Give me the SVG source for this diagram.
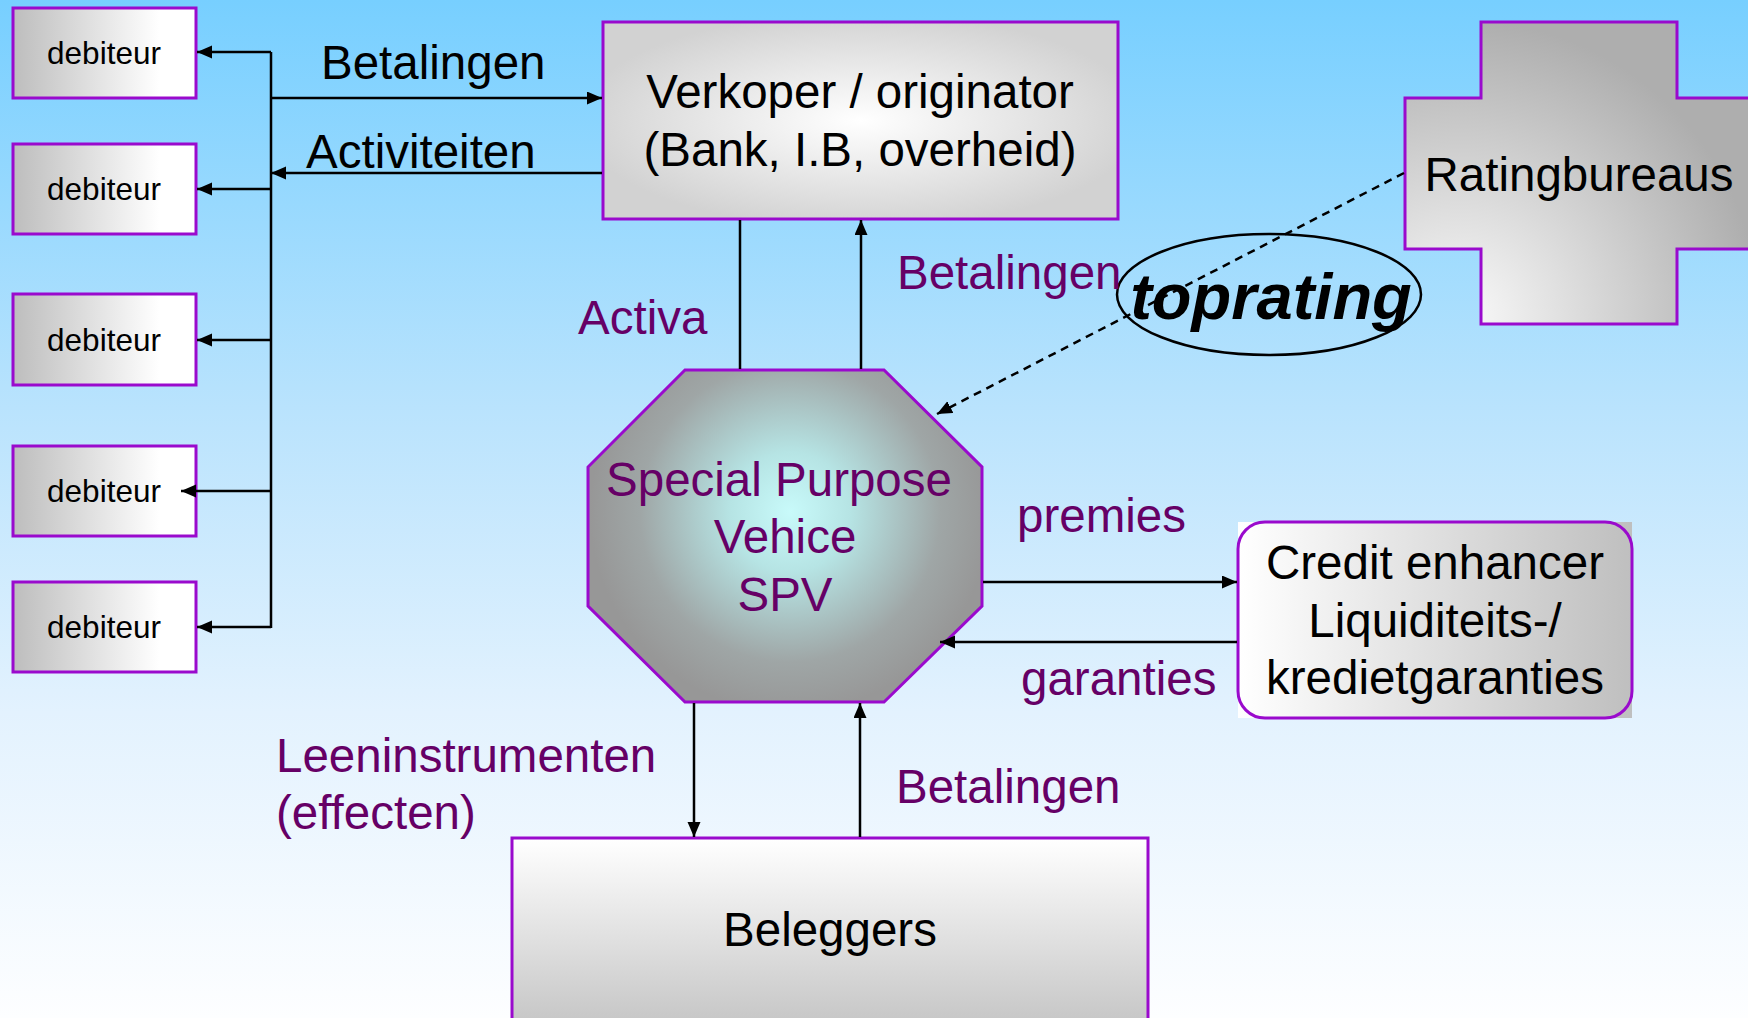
<svg xmlns="http://www.w3.org/2000/svg" width="1748" height="1018" viewBox="0 0 1748 1018">
<defs>
  <linearGradient id="bg" x1="0" y1="0" x2="0" y2="1">
    <stop offset="0" stop-color="#77cfff"/>
    <stop offset="0.4" stop-color="#b9e3fd"/>
    <stop offset="0.7" stop-color="#e3f2fe"/>
    <stop offset="1" stop-color="#fdfeff"/>
  </linearGradient>
  <linearGradient id="gDeb" x1="0" y1="0" x2="1" y2="0">
    <stop offset="0" stop-color="#bdbdbd"/>
    <stop offset="0.8" stop-color="#ffffff"/>
    <stop offset="1" stop-color="#ffffff"/>
  </linearGradient>
  <radialGradient id="gVerk" cx="0.5" cy="0.5" r="0.55">
    <stop offset="0" stop-color="#ffffff"/>
    <stop offset="1" stop-color="#d2d2d2"/>
  </radialGradient>
  <radialGradient id="gCross" gradientUnits="userSpaceOnUse" cx="1460" cy="320" r="300">
    <stop offset="0" stop-color="#fafafa"/>
    <stop offset="1" stop-color="#aeaeae"/>
  </radialGradient>
  <radialGradient id="gSpv" gradientUnits="userSpaceOnUse" cx="790" cy="512" r="200">
    <stop offset="0" stop-color="#c8fafa"/>
    <stop offset="0.3" stop-color="#b6e4e4"/>
    <stop offset="0.75" stop-color="#9fa6a6"/>
    <stop offset="1" stop-color="#979797"/>
  </radialGradient>
  <linearGradient id="gCred" x1="0" y1="0" x2="1" y2="0">
    <stop offset="0" stop-color="#ffffff"/>
    <stop offset="1" stop-color="#bfbfbf"/>
  </linearGradient>
  <linearGradient id="gBel" gradientUnits="userSpaceOnUse" x1="0" y1="838" x2="0" y2="1018">
    <stop offset="0" stop-color="#ffffff"/>
    <stop offset="1" stop-color="#c8c8c8"/>
  </linearGradient>
  <marker id="ah" markerUnits="userSpaceOnUse" markerWidth="16" markerHeight="14" refX="15" refY="6.5" orient="auto" viewBox="0 0 16 14">
    <path d="M0,0 L15,6.5 L0,13 z" fill="#000"/>
  </marker>
  <style>
    .box { stroke: #9a0acd; stroke-width: 3; }
    .t { font-family: "Liberation Sans", Arial, sans-serif; fill: #000; }
    .big { font-size: 47.5px; }
    .p { font-family: "Liberation Sans", Arial, sans-serif; font-size: 47.5px; fill: #660066; }
    .deb { font-size: 31.5px; }
    .ln { stroke: #000; stroke-width: 2.5; fill: none; }
    .arr { stroke: #000; stroke-width: 2.5; fill: none; marker-end: url(#ah); }
  </style>
</defs>

<rect x="0" y="0" width="1748" height="1018" fill="url(#bg)"/>

<g id="deb1">
  <rect class="box" x="13" y="8" width="183" height="90" fill="url(#gDeb)"/>
  <text class="t deb" x="104" y="64" text-anchor="middle">debiteur</text>
</g>
<g id="deb2">
  <rect class="box" x="13" y="144" width="183" height="90" fill="url(#gDeb)"/>
  <text class="t deb" x="104" y="200" text-anchor="middle">debiteur</text>
</g>
<g id="deb3">
  <rect class="box" x="13" y="294" width="183" height="91" fill="url(#gDeb)"/>
  <text class="t deb" x="104" y="351" text-anchor="middle">debiteur</text>
</g>
<g id="deb4">
  <rect class="box" x="13" y="446" width="183" height="90" fill="url(#gDeb)"/>
  <text class="t deb" x="104" y="502" text-anchor="middle">debiteur</text>
</g>
<g id="deb5">
  <rect class="box" x="13" y="582" width="183" height="90" fill="url(#gDeb)"/>
  <text class="t deb" x="104" y="638" text-anchor="middle">debiteur</text>
</g>

<g id="verkoper">
  <rect class="box" x="603" y="22" width="515" height="197" fill="url(#gVerk)"/>
  <text class="t big" x="860" y="108" text-anchor="middle">Verkoper / originator</text>
  <text class="t big" x="860" y="166" text-anchor="middle">(Bank, I.B, overheid)</text>
</g>

<g id="ratingbureaus">
  <path class="box" d="M1481,22 H1677 V98 H1753 V249 H1677 V324 H1481 V249 H1405 V98 H1481 Z" fill="url(#gCross)"/>
  <text class="t big" x="1579" y="191" text-anchor="middle">Ratingbureaus</text>
</g>

<g id="toprating">
  <ellipse cx="1269" cy="294.5" rx="152" ry="60.5" fill="none" stroke="#000" stroke-width="2.5"/>
  <text x="1271" y="319" text-anchor="middle" font-family="Liberation Sans, Arial, sans-serif" font-size="65" font-weight="bold" font-style="italic" fill="#000">toprating</text>
</g>

<g id="spv">
  <polygon class="box" points="685,370 884,370 982,467 982,606 884,702 685,702 588,606 588,467" fill="url(#gSpv)"/>
  <text class="p" x="779" y="496" text-anchor="middle">Special Purpose</text>
  <text class="p" x="785" y="553" text-anchor="middle">Vehice</text>
  <text class="p" x="785" y="611" text-anchor="middle">SPV</text>
</g>

<g id="credit">
  <rect x="1238" y="522" width="394" height="196" fill="url(#gCred)"/>
  <rect class="box" x="1238" y="522" width="394" height="196" rx="27" ry="27" fill="none"/>
  <text class="t big" x="1435" y="579" text-anchor="middle">Credit enhancer</text>
  <text class="t big" x="1435" y="637" text-anchor="middle">Liquiditeits-/</text>
  <text class="t big" x="1435" y="694" text-anchor="middle">kredietgaranties</text>
</g>

<g id="beleggers">
  <rect class="box" x="512" y="838" width="636" height="200" fill="url(#gBel)"/>
  <text class="t big" x="830" y="946" text-anchor="middle">Beleggers</text>
</g>

<g id="connectors">
  <line class="ln" x1="271" y1="52" x2="271" y2="628"/>
  <line class="arr" x1="271" y1="52" x2="197" y2="52"/>
  <line class="arr" x1="271" y1="189" x2="197" y2="189"/>
  <line class="arr" x1="271" y1="340" x2="197" y2="340"/>
  <line class="arr" x1="271" y1="491" x2="181" y2="491"/>
  <line class="arr" x1="271" y1="627" x2="197" y2="627"/>
  <line class="arr" x1="271" y1="98" x2="602" y2="98"/>
  <line class="arr" x1="602" y1="173" x2="271" y2="173"/>
  <line class="ln" x1="740" y1="220" x2="740" y2="369"/>
  <line class="arr" x1="861" y1="369" x2="861" y2="220"/>
  <line class="arr" x1="694" y1="703" x2="694" y2="837"/>
  <line class="arr" x1="860" y1="837" x2="860" y2="703"/>
  <line class="arr" x1="983" y1="582" x2="1237" y2="582"/>
  <line class="arr" x1="1237" y1="642" x2="940" y2="642"/>
  <line class="arr" x1="1404" y1="173" x2="937" y2="414" stroke-dasharray="8 6" stroke-width="2"/>
</g>

<g id="labels">
  <text class="t big" x="321" y="79">Betalingen</text>
  <text class="t big" x="306" y="168">Activiteiten</text>
  <text class="p" x="578" y="334">Activa</text>
  <text class="p" x="897" y="289">Betalingen</text>
  <text class="p" x="1017" y="532">premies</text>
  <text class="p" x="1021" y="695">garanties</text>
  <text class="p" x="276" y="772">Leeninstrumenten</text>
  <text class="p" x="276" y="829">(effecten)</text>
  <text class="p" x="896" y="803">Betalingen</text>
</g>
</svg>
